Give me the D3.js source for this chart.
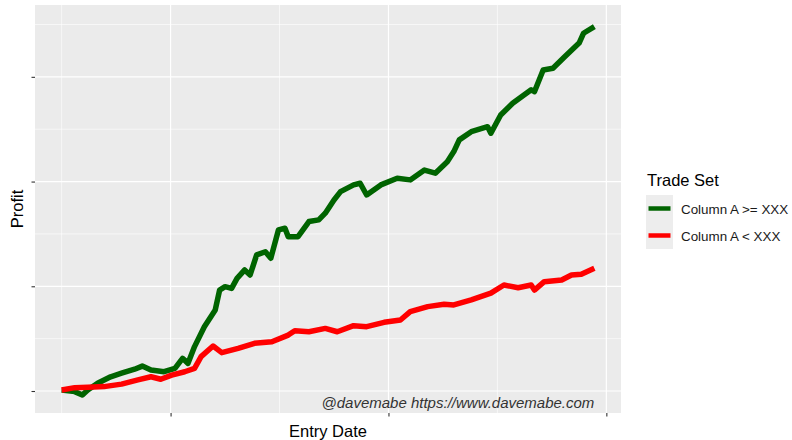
<!DOCTYPE html>
<html>
<head>
<meta charset="utf-8">
<script src="https://cdn.jsdelivr.net/npm/d3@7"></script>
<style>
  body { margin: 0; background: #ffffff; }
  text { font-family: "Liberation Sans", Arial, sans-serif; }
</style>
</head>
<body>
<svg id="chart" width="792" height="440"></svg>
<script>
// values: [entry date as decimal year, profit]
var seriesNames = ["Column A >= XXX", "Column A < XXX"]
var seriesColors = ["#006400", "#ff0000"]

var greenData = [
  [2015.00, 0.5], [2015.12, -0.3], [2015.19, -1.9], [2015.24, 0.5], [2015.33, 3.7],
  [2015.45, 6.8], [2015.55, 8.5], [2015.67, 10.4], [2015.74, 11.9], [2015.82, 10.0],
  [2015.94, 9.2], [2016.04, 10.8], [2016.11, 15.6], [2016.16, 13.2], [2016.22, 21.2],
  [2016.31, 30.7], [2016.41, 38.7], [2016.45, 48.2], [2016.50, 49.8], [2016.56, 49.0],
  [2016.61, 53.8], [2016.68, 57.8], [2016.73, 55.4], [2016.79, 65.0], [2016.87, 66.5],
  [2016.92, 63.4], [2016.99, 76.9], [2017.05, 77.7], [2017.08, 73.7], [2017.17, 73.7],
  [2017.27, 80.9], [2017.36, 81.7], [2017.42, 84.9], [2017.50, 91.2], [2017.56, 95.2],
  [2017.68, 98.4], [2017.74, 99.2], [2017.80, 93.6], [2017.93, 98.4], [2018.08, 101.6],
  [2018.20, 100.8], [2018.33, 105.5], [2018.43, 104.0], [2018.54, 109.5], [2018.60, 114.3],
  [2018.65, 119.9], [2018.76, 123.8], [2018.91, 126.2], [2018.94, 123.1], [2019.03, 131.8],
  [2019.14, 137.4], [2019.31, 143.8], [2019.34, 142.9], [2019.42, 153.3], [2019.51, 154.1],
  [2019.62, 159.7], [2019.75, 166.1], [2019.79, 170.8], [2019.89, 174.0]
]

var redData = [
  [2015.00, 0.5], [2015.12, 1.6], [2015.24, 1.8], [2015.39, 2.1], [2015.55, 3.3],
  [2015.70, 5.3], [2015.82, 6.8], [2015.91, 5.6], [2016.01, 7.6], [2016.13, 9.2],
  [2016.22, 10.8], [2016.28, 16.4], [2016.39, 21.5], [2016.47, 18.3], [2016.62, 20.4],
  [2016.77, 22.8], [2016.93, 23.5], [2017.08, 26.7], [2017.14, 28.8], [2017.27, 28.3],
  [2017.42, 29.9], [2017.53, 28.3], [2017.68, 31.2], [2017.80, 30.7], [2017.96, 32.8],
  [2018.11, 33.9], [2018.20, 37.9], [2018.36, 40.3], [2018.51, 41.4], [2018.60, 41.1],
  [2018.76, 43.5], [2018.94, 46.7], [2019.06, 50.6], [2019.19, 49.3], [2019.31, 50.6],
  [2019.34, 48.2], [2019.43, 52.2], [2019.59, 53.0], [2019.68, 55.4], [2019.77, 55.7],
  [2019.89, 58.6]
]

var xMajor = [2016, 2018, 2020]
var xMinor = [2015, 2017, 2019]
var yMajor = [0, 50, 100, 150]
var yMinor = [25, 75, 125, 175]

var dimensions = {
  width: 792,
  height: 440,
  margin: { top: 5, bottom: 27, right: 171, left: 35 }
}

var svg = d3.select("#chart")

var panelRight = dimensions.width - dimensions.margin.right
var panelBottom = dimensions.height - dimensions.margin.bottom

// ggplot style 5% padding on the date axis
var xExtent = d3.extent(greenData.concat(redData), d => d[0])
var xPad = (xExtent[1] - xExtent[0]) * 0.05

var xScale = d3.scaleLinear()
               .domain([xExtent[0] - xPad, xExtent[1] + xPad])
               .range([dimensions.margin.left, panelRight])

var yScale = d3.scaleLinear()
               .domain([-10.5, 184.3])
               .range([panelBottom, dimensions.margin.top])

// panel
svg.append("rect")
   .attr("x", dimensions.margin.left)
   .attr("y", dimensions.margin.top)
   .attr("width", panelRight - dimensions.margin.left)
   .attr("height", panelBottom - dimensions.margin.top)
   .attr("fill", "#ebebeb")

var grid = svg.append("g")

grid.selectAll(".ymin").data(yMinor).enter().append("line")
    .attr("x1", dimensions.margin.left).attr("x2", panelRight)
    .attr("y1", d => yScale(d)).attr("y2", d => yScale(d))
    .attr("stroke", "#ffffff").attr("stroke-width", 0.6)

grid.selectAll(".xmin").data(xMinor).enter().append("line")
    .attr("y1", dimensions.margin.top).attr("y2", panelBottom)
    .attr("x1", d => xScale(d)).attr("x2", d => xScale(d))
    .attr("stroke", "#ffffff").attr("stroke-width", 0.6)

grid.selectAll(".ymaj").data(yMajor).enter().append("line")
    .attr("x1", dimensions.margin.left).attr("x2", panelRight)
    .attr("y1", d => yScale(d)).attr("y2", d => yScale(d))
    .attr("stroke", "#ffffff").attr("stroke-width", 1.2)

grid.selectAll(".xmaj").data(xMajor).enter().append("line")
    .attr("y1", dimensions.margin.top).attr("y2", panelBottom)
    .attr("x1", d => xScale(d)).attr("x2", d => xScale(d))
    .attr("stroke", "#ffffff").attr("stroke-width", 1.2)

// lines, green first so red sits on top
var lineGen = d3.line()
                .x(d => xScale(d[0]))
                .y(d => yScale(d[1]))

svg.selectAll(".series")
   .data([greenData, redData])
   .enter()
   .append("path")
   .attr("d", lineGen)
   .attr("fill", "none")
   .attr("stroke", (d, i) => seriesColors[i])
   .attr("stroke-width", 5.5)
   .attr("stroke-linejoin", "round")

// axes, ticks only, no labels
var xAxisGen = d3.axisBottom(xScale).tickValues(xMajor).tickSize(3.5).tickFormat("")
var xAxis = svg.append("g")
               .attr("transform", `translate(0,${panelBottom})`)
               .call(xAxisGen)
xAxis.select(".domain").remove()
xAxis.selectAll(".tick line").attr("stroke", "#333333").attr("stroke-width", 1.1)

var yAxisGen = d3.axisLeft(yScale).tickValues(yMajor).tickSize(3.5).tickFormat("")
var yAxis = svg.append("g")
               .attr("transform", `translate(${dimensions.margin.left},0)`)
               .call(yAxisGen)
yAxis.select(".domain").remove()
yAxis.selectAll(".tick line").attr("stroke", "#333333").attr("stroke-width", 1.1)

// watermark
svg.append("text")
   .text("@davemabe https://www.davemabe.com")
   .attr("x", xScale(2019.89))
   .attr("y", 408)
   .attr("text-anchor", "end")
   .style("font-size", "15px")
   .style("font-style", "italic")
   .attr("fill", "#333333")

// axis titles
svg.append("text")
   .text("Entry Date")
   .attr("text-anchor", "middle")
   .attr("x", (dimensions.margin.left + panelRight) / 2)
   .attr("y", 437)
   .style("font-size", "16.5px")
   .attr("fill", "#000000")

svg.append("text")
   .text("Profit")
   .attr("text-anchor", "middle")
   .attr("transform", `translate(23, ${(dimensions.margin.top + panelBottom) / 2}) rotate(-90)`)
   .style("font-size", "16.5px")
   .attr("fill", "#000000")

// legend
var legend = svg.append("g").attr("transform", "translate(646, 0)")

legend.append("text")
      .text("Trade Set")
      .attr("x", 1)
      .attr("y", 186)
      .style("font-size", "16.5px")
      .attr("fill", "#000000")

var keys = legend.selectAll(".key")
                 .data(seriesNames)
                 .enter()
                 .append("g")
                 .attr("transform", (d, i) => `translate(0, ${195 + i * 27})`)

keys.append("rect")
    .attr("width", 27)
    .attr("height", 27)
    .attr("fill", "#ededed")

keys.append("line")
    .attr("x1", 2.5).attr("x2", 24.5)
    .attr("y1", 13.5).attr("y2", 13.5)
    .attr("stroke", (d, i) => seriesColors[i])
    .attr("stroke-width", 4.5)

keys.append("text")
    .text(d => d)
    .attr("x", 35)
    .attr("y", 18.5)
    .style("font-size", "13.4px")
    .attr("fill", "#1a1a1a")
</script>
</body>
</html>
